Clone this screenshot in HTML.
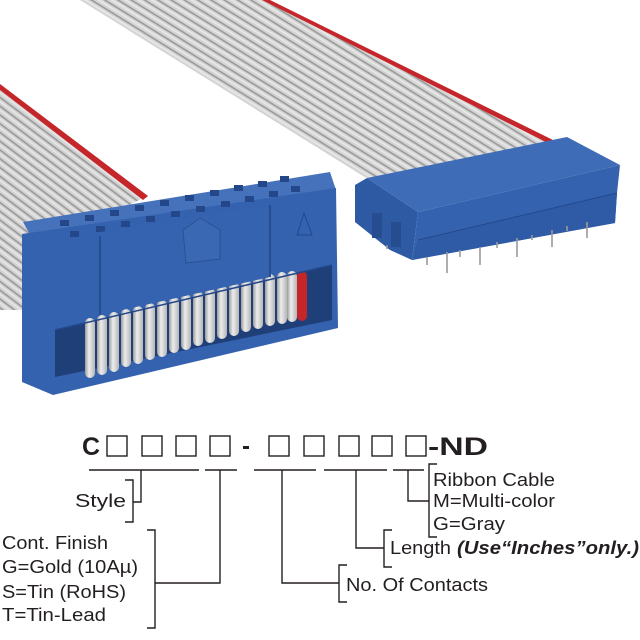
<!DOCTYPE html>
<html><head><meta charset="utf-8"><style>
html,body{margin:0;padding:0;background:#fff;}
svg{display:block;}
text{font-family:"Liberation Sans",Arial,sans-serif;fill:#231f20;}
</style></head><body>
<svg width="640" height="640" viewBox="0 0 640 640" xmlns="http://www.w3.org/2000/svg">
<defs>
<pattern id="rb1" width="7" height="7" patternUnits="userSpaceOnUse" patternTransform="rotate(31.8)">
<rect width="7" height="7" fill="#d4d4d4"/><rect y="0" width="7" height="1.6" fill="#9a9a9a"/><rect y="3" width="7" height="2" fill="#e6e6e6"/>
</pattern>
<pattern id="rb2" width="7" height="7" patternUnits="userSpaceOnUse" patternTransform="rotate(37)">
<rect width="7" height="7" fill="#d2d2d2"/><rect y="0" width="7" height="1.6" fill="#999"/><rect y="3" width="7" height="2" fill="#e4e4e4"/>
</pattern>
<linearGradient id="loop" x1="0" x2="1"><stop offset="0" stop-color="#9c9c9c"/><stop offset="0.4" stop-color="#ededed"/><stop offset="1" stop-color="#b5b5b5"/></linearGradient>
</defs>

<!-- back ribbon -->
<polygon points="80,0 266,0 549,140 560,150 420,200 365,177" fill="url(#rb1)"/>
<polygon points="262,0 270,0 553,140 548,143" fill="#c4262a"/>

<!-- front-left ribbon -->
<polygon points="0,87 145,197 60,240 60,310 0,310" fill="url(#rb2)"/>
<polygon points="0,84 0,90 143,200 148,196" fill="#c4262a"/>

<!-- right connector -->
<polygon points="355,185 367,178 418,212 412,260 390,250 355,222" fill="#2d5aa3"/>
<polygon points="367,178 567,137 620,165 418,212" fill="#3f6cb6"/>
<polygon points="418,212 620,165 617,193 615,223 412,260" fill="#3562ae"/>
<polygon points="418,240 617,193 615,223 412,260" fill="#2f5ba6"/>
<line x1="418" y1="240" x2="617" y2="193" stroke="#24488a" stroke-width="1"/>
<rect x="372" y="213" width="10" height="25" fill="#264d90"/>
<rect x="391" y="222" width="10" height="25" fill="#264d90"/>
<g stroke="#9a9a9a" stroke-width="1.6">
<line x1="447" y1="252" x2="447" y2="273"/><line x1="480" y1="247" x2="480" y2="265"/><line x1="517" y1="238" x2="517" y2="257"/><line x1="552" y1="230" x2="552" y2="247"/><line x1="587" y1="222" x2="587" y2="238"/>
<line x1="427" y1="257" x2="427" y2="265"/><line x1="460" y1="250" x2="460" y2="257"/><line x1="497" y1="242" x2="497" y2="248"/><line x1="532" y1="235" x2="532" y2="240"/><line x1="567" y1="226" x2="567" y2="231"/><line x1="387" y1="245" x2="387" y2="249"/>
</g>

<!-- left connector -->
<polygon points="23,222 330,172 336,190 33,240" fill="#4572bb"/>
<polygon points="22,234 336,188 338,328 53,395 22,382" fill="#3562ae"/>
<g fill="#24478a">
<rect x="60" y="220" width="9" height="6"/><rect x="85" y="215" width="9" height="6"/><rect x="110" y="210" width="9" height="6"/><rect x="135" y="205" width="9" height="6"/><rect x="160" y="200" width="9" height="6"/><rect x="185" y="195" width="9" height="6"/><rect x="210" y="190" width="9" height="6"/><rect x="234" y="185" width="9" height="6"/><rect x="258" y="181" width="9" height="6"/><rect x="280" y="176" width="9" height="6"/>
<rect x="70" y="231" width="9" height="6"/><rect x="96" y="226" width="9" height="6"/><rect x="121" y="221" width="9" height="6"/><rect x="146" y="216" width="9" height="6"/><rect x="171" y="211" width="9" height="6"/><rect x="196" y="206" width="9" height="6"/><rect x="221" y="201" width="9" height="6"/><rect x="245" y="196" width="9" height="6"/><rect x="269" y="191" width="9" height="6"/><rect x="291" y="186" width="9" height="6"/>
</g>
<!-- window -->
<polygon points="55,330 332,265 332,320 55,377" fill="#1f3f78"/>
<g>
<rect x="85" y="318" width="10" height="60" rx="5" fill="url(#loop)"/>
<rect x="97" y="315" width="10" height="60" rx="5" fill="url(#loop)"/>
<rect x="109" y="312" width="10" height="60" rx="5" fill="url(#loop)"/>
<rect x="121" y="309" width="10" height="58" rx="5" fill="url(#loop)"/>
<rect x="133" y="306" width="10" height="58" rx="5" fill="url(#loop)"/>
<rect x="145" y="303" width="10" height="57" rx="5" fill="url(#loop)"/>
<rect x="157" y="300" width="10" height="57" rx="5" fill="url(#loop)"/>
<rect x="169" y="297" width="10" height="56" rx="5" fill="url(#loop)"/>
<rect x="181" y="294" width="10" height="56" rx="5" fill="url(#loop)"/>
<rect x="193" y="291" width="10" height="55" rx="5" fill="url(#loop)"/>
<rect x="205" y="288" width="10" height="55" rx="5" fill="url(#loop)"/>
<rect x="217" y="285" width="10" height="54" rx="5" fill="url(#loop)"/>
<rect x="229" y="282" width="10" height="54" rx="5" fill="url(#loop)"/>
<rect x="241" y="279" width="10" height="53" rx="5" fill="url(#loop)"/>
<rect x="253" y="276" width="10" height="53" rx="5" fill="url(#loop)"/>
<rect x="265" y="274" width="10" height="52" rx="5" fill="url(#loop)"/>
<rect x="277" y="272" width="10" height="52" rx="5" fill="url(#loop)"/>
<rect x="297" y="271" width="10" height="50" rx="5" fill="#c4262a"/>
<rect x="287" y="271" width="10" height="51" rx="5" fill="url(#loop)"/>
</g>
<!-- center panel -->
<polygon points="100,232 270,205 270,277 100,315" fill="#3663af"/>
<line x1="100" y1="236" x2="100" y2="315" stroke="#264d90" stroke-width="2"/>
<line x1="270" y1="205" x2="270" y2="277" stroke="#264d90" stroke-width="2"/>
<polygon points="200,218 220,230 220,259 186,263 183,230" fill="#3a68b3" stroke="#2a5196" stroke-width="1"/>
<polygon points="304,213 312,235 297,235" fill="none" stroke="#24478a" stroke-width="1"/>
<line x1="55" y1="330" x2="332" y2="265" stroke="#24478a" stroke-width="1.5"/>

<!-- part number -->
<text x="82" y="455" font-size="25" font-weight="bold">C</text>
<g fill="none" stroke="#231f20" stroke-width="1.4">
<rect x="107" y="436" width="20" height="20"/><rect x="142" y="436" width="20" height="20"/><rect x="176" y="436" width="20" height="20"/><rect x="210" y="436" width="20" height="20"/>
<rect x="269" y="436" width="20" height="20"/><rect x="304" y="436" width="20" height="20"/><rect x="339" y="436" width="20" height="20"/><rect x="372" y="436" width="20" height="20"/><rect x="406" y="436" width="20" height="20"/>
</g>
<rect x="243" y="446" width="6" height="3" fill="#231f20"/>
<text x="428" y="455" font-size="25" font-weight="bold" textLength="60" lengthAdjust="spacingAndGlyphs">-ND</text>

<g fill="none" stroke="#231f20" stroke-width="1.4">
<line x1="89" y1="470" x2="199" y2="470"/><line x1="205" y1="470" x2="237" y2="470"/><line x1="254" y1="470" x2="316" y2="470"/><line x1="324" y1="470" x2="387" y2="470"/><line x1="393" y1="470" x2="424" y2="470"/>
<polyline points="141,470 141,502 133,502"/><polyline points="125,480 133,480 133,522 125,522"/>
<polyline points="220,470 220,583 155,583"/><polyline points="147,530 155,530 155,628 147,628"/>
<polyline points="282,470 282,583 339,583"/><polyline points="347,565 339,565 339,602 347,602"/>
<polyline points="356,470 356,548 384,548"/><polyline points="392,530 384,530 384,567 392,567"/>
<polyline points="408,470 408,501 429,501"/><polyline points="437,464 429,464 429,537 437,537"/>
</g>
<g font-size="18">
<text x="75" y="507" textLength="51" lengthAdjust="spacingAndGlyphs">Style</text>
<text x="2" y="549" textLength="106" lengthAdjust="spacingAndGlyphs">Cont. Finish</text>
<text x="2" y="573" textLength="136" lengthAdjust="spacingAndGlyphs">G=Gold (10Aµ)</text>
<text x="2" y="598" textLength="124" lengthAdjust="spacingAndGlyphs">S=Tin (RoHS)</text>
<text x="2" y="621" textLength="104" lengthAdjust="spacingAndGlyphs">T=Tin-Lead</text>
<text x="346" y="591" textLength="142" lengthAdjust="spacingAndGlyphs">No. Of Contacts</text>
<text x="390" y="554" textLength="61" lengthAdjust="spacingAndGlyphs">Length</text>
<text x="457" y="554" font-weight="bold" font-style="italic" textLength="182" lengthAdjust="spacingAndGlyphs">(Use“Inches”only.)</text>
<text x="433" y="486" textLength="122" lengthAdjust="spacingAndGlyphs">Ribbon Cable</text>
<text x="433" y="507" textLength="122" lengthAdjust="spacingAndGlyphs">M=Multi-color</text>
<text x="433" y="530" textLength="72" lengthAdjust="spacingAndGlyphs">G=Gray</text>
</g>
</svg>
</body></html>
